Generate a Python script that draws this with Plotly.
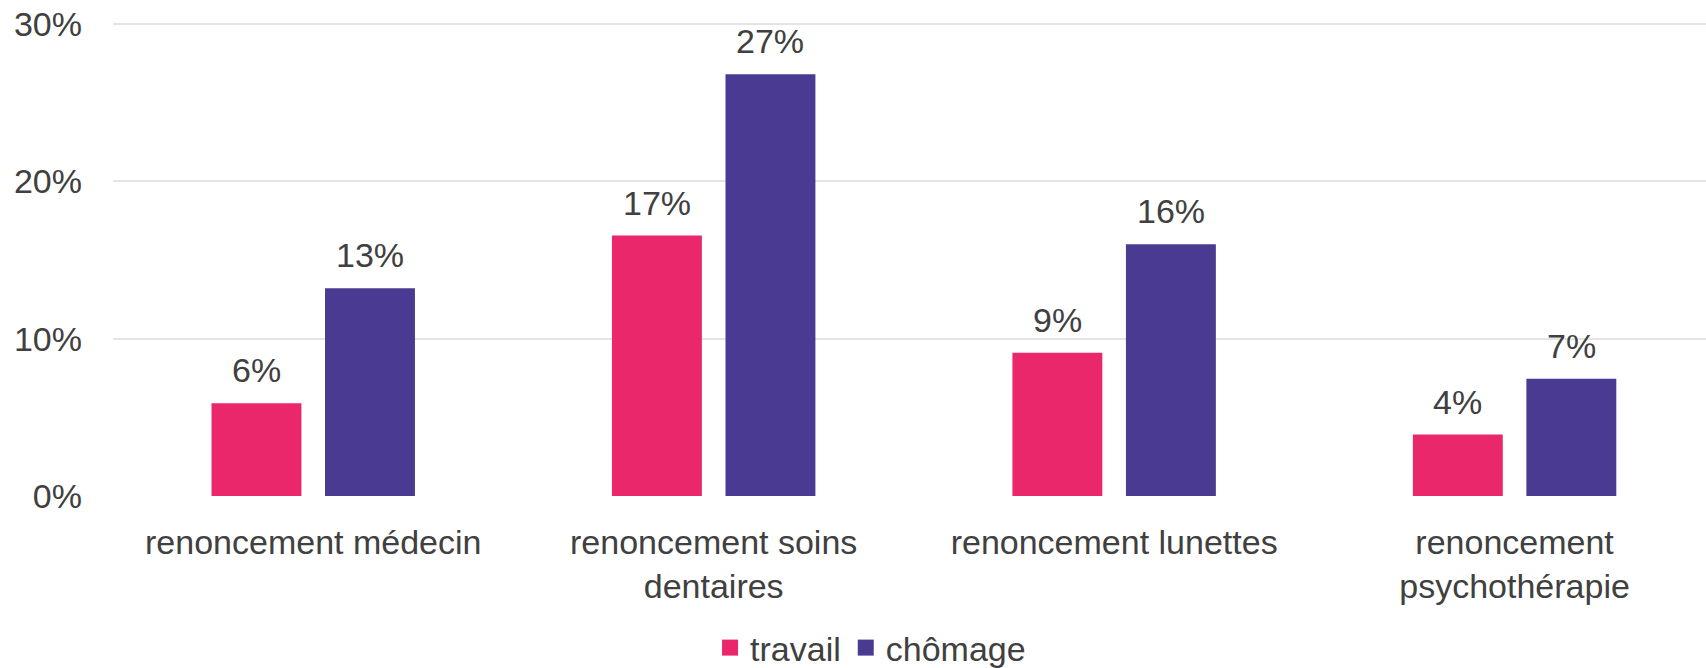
import plotly.graph_objects as go

categories = ["renoncement médecin", "renoncement soins<br>dentaires",
              "renoncement lunettes", "renoncement<br>psychothérapie"]
travail = [0.059, 0.1655, 0.091, 0.039]
chomage = [0.132, 0.268, 0.160, 0.0745]
series_names = ["travail", "chômage"]
colors = ["#EA276A", "#4A3A92"]
y_ticks = [0, 0.1, 0.2, 0.3]

FONT = "Liberation Sans, Arial, sans-serif"
TXT = "#404040"
FS = 34

W, H = 1706, 668
ML, MR, MT, MB = 113, 0, 21, 172
XR = [-0.5, 3.478]
YR = [0, 0.3018]
BARGAP = 0.433
GROUPGAP = 0.208

fig = go.Figure()
for name, vals, col in zip(series_names, [travail, chomage], colors):
    fig.add_trace(go.Bar(
        x=categories, y=vals, name=name, showlegend=False,
        marker=dict(color=col, line=dict(width=0)),
    ))
    # legend entries (square symbols)
    fig.add_trace(go.Scatter(
        x=[None], y=[None], name=name, mode="markers",
        marker=dict(symbol="square", size=16, color=col),
        showlegend=True,
    ))

# data labels above bars
px_per_unit = (W - ML - MR) / (XR[1] - XR[0])
offset_px = (1 - BARGAP) / 4 * px_per_unit
for sign, vals in zip([-1, 1], [travail, chomage]):
    for c, v in zip(categories, vals):
        fig.add_annotation(
            x=c, y=v, xref="x", yref="y", text=f"{v:.0%}", showarrow=False,
            xshift=sign * offset_px, yshift=12, yanchor="bottom",
            font=dict(family=FONT, size=FS, color=TXT),
        )

plot_h = H - MT - MB
fig.update_layout(
    width=W, height=H,
    margin=dict(l=ML, r=MR, t=MT, b=MB, autoexpand=False),
    paper_bgcolor="white", plot_bgcolor="white",
    barmode="group", bargap=BARGAP, bargroupgap=GROUPGAP,
    font=dict(family=FONT, size=FS, color=TXT),
    showlegend=True,
    legend=dict(orientation="h", x=0.3748, xanchor="left",
                y=-(MB + 9) / plot_h, yanchor="bottom",
                font=dict(family=FONT, size=FS, color=TXT),
                itemwidth=30, itemsizing="trace", traceorder="normal",
                bgcolor="rgba(0,0,0,0)", borderwidth=0),
    xaxis=dict(range=XR, showgrid=False, showline=False, zeroline=False,
               ticks="", ticklabelstandoff=23,
               tickfont=dict(family=FONT, size=FS, color=TXT)),
    yaxis=dict(range=YR, tickvals=y_ticks, tickformat=".0%",
               showgrid=True, gridcolor="#E4E4E4", gridwidth=2,
               zeroline=False, showline=False, ticks="",
               ticklabelstandoff=30,
               tickfont=dict(family=FONT, size=FS, color=TXT)),
)

fig.write_html("out.html", config={"displayModeBar": False},
               post_script="document.body.style.margin='0';document.body.style.padding='0';")
